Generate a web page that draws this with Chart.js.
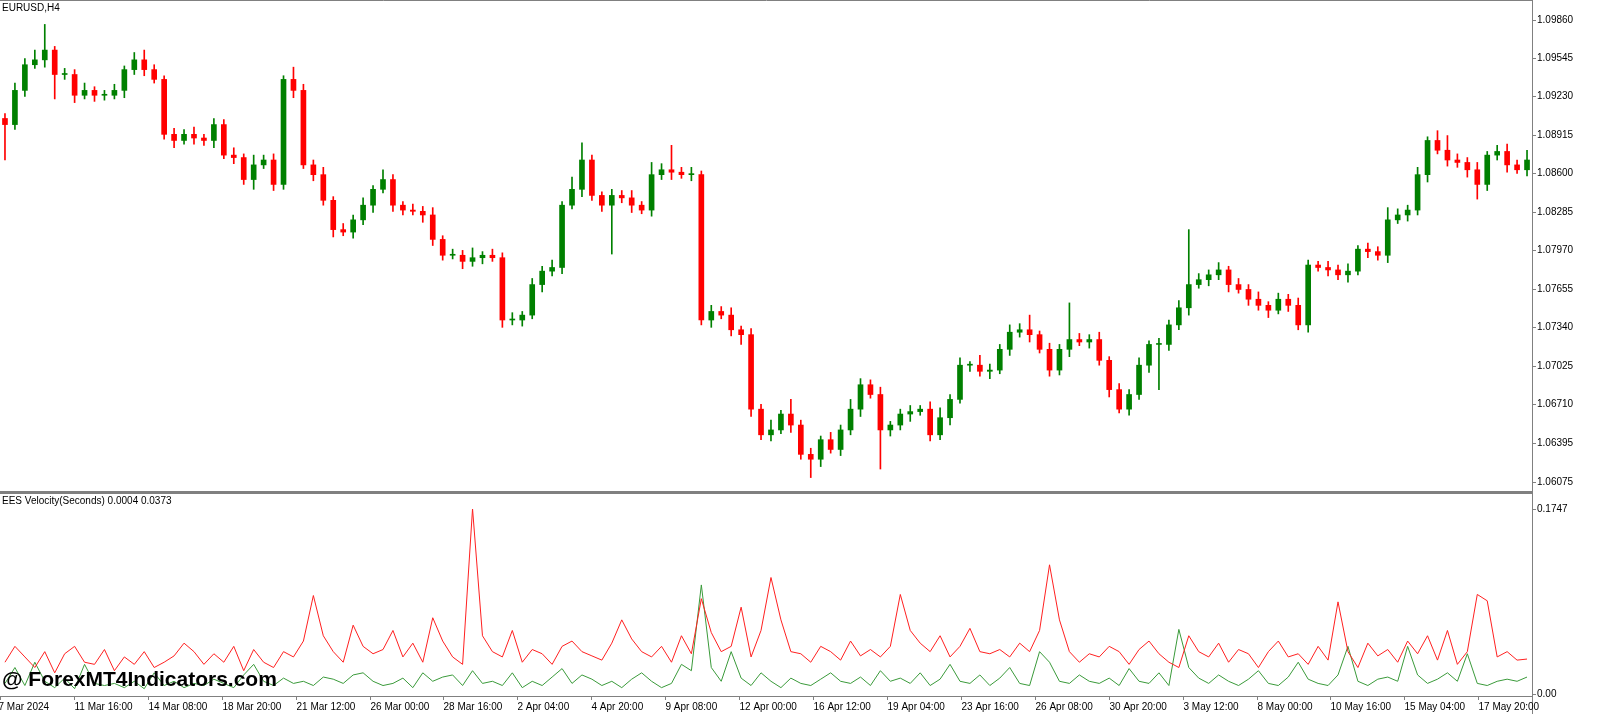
<!DOCTYPE html>
<html><head><meta charset="utf-8">
<script src="https://cdn.jsdelivr.net/npm/chart.js@4.4.1/dist/chart.umd.min.js"></script>
<style>
  body { margin:0; background:#fff; width:1600px; height:714px; overflow:hidden; font-family:"Liberation Sans",Arial,sans-serif; }
  #top { position:absolute; left:0; top:0; width:1600px; height:491px; }
  #bot { position:absolute; left:0; top:491px; width:1600px; height:223px; }
  #mark { position:absolute; left:2px; top:667px; font:bold 21px "Liberation Sans",Arial,sans-serif; color:#000; }
</style></head>
<body>
<div id="top"><canvas id="priceChart"></canvas></div>
<div id="bot"><canvas id="velChart"></canvas></div>
<div id="mark">@ ForexMT4Indicators.com</div>
<script>
// EURUSD H4, prices in pips (x 0.0001)
const closes = [10900,10928,10949,10953,10961,10941,10941,10924,10928,10924,
  10924,10928,10945,10953,10945,10937,10892,10887,10892,10889,
  10887,10900,10875,10873,10855,10867,10871,10851,10937,10928,
  10867,10859,10838,10814,10812,10822,10834,10847,10855,10834,
  10830,10829,10826,10806,10793,10793,10788,10791,10793,10791,
  10740,10740,10744,10769,10780,10783,10834,10847,10871,10842,
  10834,10842,10840,10834,10830,10859,10863,10861,10859,10859,
  10740,10747,10744,10732,10728,10667,10646,10650,10663,10654,
  10630,10626,10642,10634,10650,10667,10687,10679,10650,10654,
  10663,10665,10667,10646,10660,10675,10703,10703,10698,10699,
  10716,10730,10732,10728,10716,10699,10716,10724,10722,10724,
  10707,10683,10667,10679,10703,10720,10720,10736,10750,10769,
  10773,10777,10781,10769,10765,10757,10752,10748,10757,10752,
  10736,10785,10783,10781,10777,10780,10798,10796,10793,10822,
  10826,10830,10859,10887,10879,10871,10869,10863,10851,10875,
  10878,10867,10863,10871];
const firstOpen = 10905;
const wickUp = [4,6,5,8,21,3,5,4,6,3, 4,5,3,6,8,4,3,5,4,6, 3,5,4,6,3,8,4,5,3,10,
  5,4,6,3,5,4,6,3,8,4, 3,5,4,6,3,5,4,8,3,5, 4,6,3,5,4,6,3,10,14,4,
  3,5,4,6,3,10,5,20,4,6, 3,5,4,6,3,5,4,8,3,12, 4,5,3,6,4,8,5,4,6,3,
  4,5,3,6,8,4,6,3,8,5, 4,6,5,12,3,5,4,30,5,4, 6,3,5,4,6,3,5,4,6,45,
  5,4,6,3,5,4,6,3,5,4, 6,4,3,5,4,6,3,5,4,10, 5,4,6,3,8,12,5,4,6,3, 5,6,4,8];
const wickDn = [29,4,5,3,6,20,4,6,3,5, 4,3,6,4,5,3,4,6,3,5, 4,6,3,5,4,8,3,5,4,6,
  3,5,4,6,3,5,4,6,3,5, 4,3,6,5,4,3,6,4,5,3, 6,4,5,3,6,4,5,3,6,4,
  5,40,4,6,3,5,4,6,3,5, 4,6,3,5,8,6,4,5,3,6, 4,15,6,3,5,4,6,3,32,5,
  4,6,3,5,4,6,3,5,4,6, 3,5,4,6,3,5,4,6,3,5, 4,6,3,5,4,6,37,5,4,6,
  3,5,4,6,3,5,4,6,3,5, 4,6,3,5,4,6,3,5,4,6, 3,5,4,6,3,5,4,6,12,5, 4,6,3,5];

// EES Velocity (x 0.001)
const velRed = [30,45,35,25,40,20,38,45,30,28, 42,22,35,28,40,25,30,36,48,40,
  28,38,30,45,22,42,30,25,40,35, 50,93,55,40,30,65,45,38,42,60,
  35,48,30,72,50,35,28,175,55,40, 35,60,30,42,38,28,45,50,40,36,
  32,48,70,52,40,35,45,30,55,38, 90,58,40,45,82,35,60,110,70,40,
  38,30,45,40,32,50,36,42,35,45, 94,60,48,40,55,35,45,62,40,38,
  42,35,48,40,60,122,70,40,30,38, 35,45,40,28,42,50,38,30,25,55,
  40,35,48,30,42,38,25,40,50,35, 38,28,45,32,87,40,25,48,36,42,
  30,50,38,55,32,60,28,40,94,88, 35,40,32,33];
const velGreen = [10,25,8,30,12,6,15,5,28,10, 8,10,6,12,5,20,8,12,6,10,
  8,14,10,6,18,28,12,8,15,10, 12,8,16,14,10,18,20,12,8,10,
  15,6,20,12,16,18,8,22,10,12, 8,20,6,12,8,16,24,10,18,14,
  8,12,6,14,20,12,6,10,28,22, 103,25,12,40,15,8,20,12,6,15,
  10,8,14,20,12,10,16,8,22,12, 15,10,20,8,14,28,12,10,18,8,
  15,25,10,8,40,30,12,10,18,12, 10,15,8,24,12,10,20,8,61,25,
  15,10,18,12,8,14,22,10,8,16, 30,14,10,8,18,45,12,8,14,16,
  12,45,18,10,14,20,12,38,10,8, 12,14,12,16];

const priceTicks = ['1.09860','1.09545','1.09230','1.08915','1.08600','1.08285','1.07970',
  '1.07655','1.07340','1.07025','1.06710','1.06395','1.06075'];
const velTicks = ['0.1747', '0.00'];
const timeTicks = ['7 Mar 2024','11 Mar 16:00','14 Mar 08:00','18 Mar 20:00','21 Mar 12:00',
  '26 Mar 00:00','28 Mar 16:00','2 Apr 04:00','4 Apr 20:00','9 Apr 08:00','12 Apr 00:00',
  '16 Apr 12:00','19 Apr 04:00','23 Apr 16:00','26 Apr 08:00','30 Apr 20:00','3 May 12:00',
  '8 May 00:00','10 May 16:00','15 May 04:00','17 May 20:00'];
const barsPerTimeTick = 7.43;

const UP = '#008000', DN = '#ff0000';
const idx = closes.map((_, i) => String(i));
const opens = closes.map((c, i) => i ? closes[i - 1] : firstOpen);
const bodies = closes.map((c, i) => [opens[i], c]);
const wicks = closes.map((c, i) => [Math.min(opens[i], c) - wickDn[i], Math.max(opens[i], c) + wickUp[i]]);
const cols = closes.map((c, i) => c >= opens[i] ? UP : DN);

const FONT = '10px "Liberation Sans", Arial, sans-serif';

// panel frame, right axis labels, title and time axis
const frame = {
  id: 'frame',
  afterDraw(chart, args, opts) {
    const { ctx, chartArea: a } = chart;
    const y = chart.scales.y;
    ctx.save();
    ctx.strokeStyle = '#808080';
    ctx.lineWidth = opts.sepWidth;
    ctx.beginPath();
    ctx.moveTo(0, opts.sepWidth / 2); ctx.lineTo(a.right + 1, opts.sepWidth / 2);
    ctx.stroke();
    ctx.lineWidth = 1;
    ctx.beginPath();
    ctx.moveTo(a.right + 0.5, 0); ctx.lineTo(a.right + 0.5, chart.height);
    ctx.stroke();
    ctx.font = FONT; ctx.fillStyle = '#000';
    ctx.textBaseline = 'top'; ctx.textAlign = 'left';
    ctx.fillText(opts.title, 2, opts.sepWidth + 2);
    ctx.textBaseline = 'middle';
    opts.ticks.forEach(t => {
      const py = Math.round(y.getPixelForValue(parseFloat(t) * opts.unit)) + 0.5;
      ctx.beginPath(); ctx.moveTo(a.right, py); ctx.lineTo(a.right + 4, py); ctx.stroke();
      ctx.fillText(t, a.right + 5, py);
    });
    if (opts.timeAxis) {
      const x = chart.scales.x;
      ctx.textBaseline = 'top';
      ctx.beginPath();
      ctx.moveTo(0, a.bottom + 2.5); ctx.lineTo(a.right, a.bottom + 2.5);
      ctx.stroke();
      timeTicks.forEach((t, k) => {
        const px = Math.round(x.getPixelForValue(k * barsPerTimeTick - 0.5)) + 0.5;
        ctx.beginPath(); ctx.moveTo(px, a.bottom + 2); ctx.lineTo(px, a.bottom + 6); ctx.stroke();
        ctx.fillText(t, px - (k ? 0 : 2), a.bottom + 8);
      });
    }
    ctx.restore();
  }
};

new Chart(document.getElementById('priceChart'), {
  type: 'bar',
  data: { labels: idx, datasets: [
    { data: wicks, backgroundColor: cols, barThickness: 1, grouped: false, order: 2 },
    { data: bodies, backgroundColor: cols, barThickness: 5, minBarLength: 1, grouped: false, order: 1 }
  ] },
  options: {
    responsive: true, maintainAspectRatio: false, animation: false,
    layout: { padding: { top: 0, bottom: 0, left: 0, right: 68 } },
    plugins: { legend: { display: false }, tooltip: { enabled: false },
               frame: { title: 'EURUSD,H4', ticks: priceTicks, unit: 10000, sepWidth: 1 } },
    scales: {
      x: { display: false, offset: true },
      y: { display: false, min: 10600, max: 11002 }
    }
  },
  plugins: [frame]
});

new Chart(document.getElementById('velChart'), {
  type: 'line',
  data: { labels: idx, datasets: [
    { data: velRed.map(v => v / 1000), borderColor: '#ff2020', borderWidth: 1, pointRadius: 0, tension: 0 },
    { data: velGreen.map(v => v / 1000), borderColor: '#3a9a3a', borderWidth: 1, pointRadius: 0, tension: 0 }
  ] },
  options: {
    responsive: true, maintainAspectRatio: false, animation: false,
    layout: { padding: { top: 18, bottom: 20, left: 0, right: 68 } },
    plugins: { legend: { display: false }, tooltip: { enabled: false },
               frame: { title: 'EES Velocity(Seconds) 0.0004 0.0373', ticks: velTicks, unit: 1,
                        sepWidth: 3, timeAxis: true } },
    scales: {
      x: { display: false, offset: true },
      y: { display: false, min: 0, max: 0.1747 }
    }
  },
  plugins: [frame]
});
</script>
</body></html>
